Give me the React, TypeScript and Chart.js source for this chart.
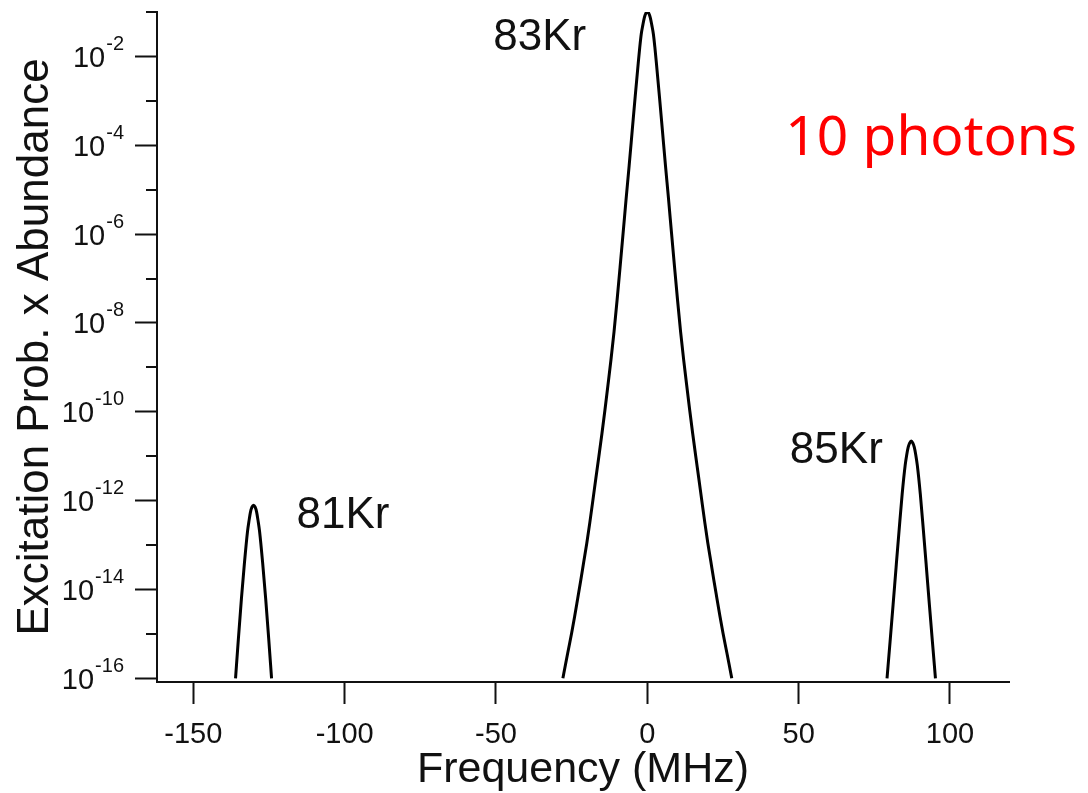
import { useEffect, useRef } from 'react';
import { Chart, registerables } from 'chart.js';

Chart.register(...registerables);

const FONT = '"Liberation Sans", Arial, Helvetica, sans-serif';
const INK = '#111111';

// 83Kr central peak (MHz, excitation prob. x abundance)
const kr83Freq = [
  -27.9, -27, -26, -25, -24, -23, -22, -21, -20, -19, -18, -17, -16, -15, -14, -13, -12, -11, -10, -9, -8, -7, -6, -5, -4, -3, -2.5, -2, -1.5, -1, -0.5,
  0,
  0.5, 1, 1.5, 2, 2.5, 3, 4, 5, 6, 7, 8, 9, 10, 11, 12, 13, 14, 15, 16, 17, 18, 19, 20, 21, 22, 23, 24, 25, 26, 27, 27.9,
];
const kr83Prob = [
  1.0e-16, 2.1e-16, 4.7e-16, 1.05e-15, 2.5e-15, 6.3e-15, 1.6e-14, 4.2e-14, 1.1e-13, 3.2e-13, 1.0e-12, 3.2e-12, 1.0e-11, 3.2e-11, 1.1e-10, 4.0e-10, 1.5e-9, 6.3e-9, 3.2e-8, 1.8e-7, 1.05e-6, 6.3e-6, 3.5e-5, 2.1e-4, 1.26e-3, 7.1e-3, 1.6e-2, 3.2e-2, 5.0e-2, 7.4e-2, 9.3e-2,
  1.0e-1,
  9.3e-2, 7.4e-2, 5.0e-2, 3.2e-2, 1.6e-2, 7.1e-3, 1.26e-3, 2.1e-4, 3.5e-5, 6.3e-6, 1.05e-6, 1.8e-7, 3.2e-8, 6.3e-9, 1.5e-9, 4.0e-10, 1.1e-10, 3.2e-11, 1.0e-11, 3.2e-12, 1.0e-12, 3.2e-13, 1.1e-13, 4.2e-14, 1.6e-14, 6.3e-15, 2.5e-15, 1.05e-15, 4.7e-16, 2.1e-16, 1.0e-16,
];

// 81Kr peak
const kr81Freq = [-136.05, -135.1, -134.1, -133.1, -132.1, -131.6, -131.1, -130.6, -130.1, -129.6, -129.1, -128.6, -128.1, -127.1, -126.1, -125.1, -124.15];
const kr81Prob = [1.0e-16, 7.9e-16, 6.3e-15, 4.0e-14, 2.0e-13, 3.5e-13, 5.6e-13, 7.2e-13, 7.9e-13, 7.2e-13, 5.6e-13, 3.5e-13, 2.0e-13, 4.0e-14, 6.3e-15, 7.9e-16, 1.0e-16];

// 85Kr peak
const kr85Freq = [79.2, 80.2, 81.2, 82.2, 83.2, 84.2, 85.2, 85.7, 86.2, 86.7, 87.2, 87.7, 88.2, 88.7, 89.2, 90.2, 91.2, 92.2, 93.2, 94.2, 95.2];
const kr85Prob = [1.0e-16, 6.6e-16, 4.5e-15, 3.2e-14, 2.2e-13, 1.4e-12, 6.3e-12, 1.07e-11, 1.6e-11, 2.0e-11, 2.2e-11, 2.0e-11, 1.6e-11, 1.07e-11, 6.3e-12, 1.4e-12, 2.2e-13, 3.2e-14, 4.5e-15, 6.6e-16, 1.0e-16];

// axes
const xTickValues = [-150, -100, -50, 0, 50, 100];
const yDecades = [-16, -15, -14, -13, -12, -11, -10, -9, -8, -7, -6, -5, -4, -3, -2, -1];
const yLabelDecades = [-16, -14, -12, -10, -8, -6, -4, -2];

// text labels (anchored at data coordinates: left edge, baseline)
const labelTexts = ['83Kr', '85Kr', '81Kr', '10 photons'];
const labelFreq = [-50.9, 47.1, -115.9, 45.6];
const labelProb = [1.4e-2, 7.2e-12, 2.4e-13, 6.0e-5];
const labelColors = [INK, INK, INK, '#ff0000'];
const labelFonts = [`44px ${FONT}`, `44px ${FONT}`, `44px ${FONT}`, `55px "Noto Sans", "Open Sans", sans-serif`];

const overlayPlugin = {
  id: 'overlay',
  afterDraw(chart: any) {
    const ctx = chart.ctx as CanvasRenderingContext2D;
    const ys = chart.scales.y;
    const xs = chart.scales.x;
    const left = chart.chartArea.left;
    ctx.save();
    // minor ticks (odd decades)
    ctx.strokeStyle = INK;
    ctx.lineWidth = 2;
    yDecades.forEach((k) => {
      if (Math.abs(k) % 2 === 1) {
        const py = Math.round(ys.getPixelForValue(10 ** k));
        ctx.beginPath();
        ctx.moveTo(left - 11, py);
        ctx.lineTo(left, py);
        ctx.stroke();
      }
    });
    // y tick labels with superscript exponent
    ctx.fillStyle = INK;
    ctx.textAlign = 'right';
    ctx.textBaseline = 'alphabetic';
    const right = left - 33;
    yLabelDecades.forEach((k) => {
      const py = ys.getPixelForValue(10 ** k);
      const sup = String(k);
      ctx.font = `20px ${FONT}`;
      ctx.fillText(sup, right, py - 6.5);
      const w = ctx.measureText(sup).width;
      ctx.font = `29px ${FONT}`;
      ctx.fillText('10', right - w - 1, py + 10.5);
    });
    // annotations
    ctx.textAlign = 'left';
    labelTexts.forEach((t, i) => {
      ctx.font = labelFonts[i];
      ctx.fillStyle = labelColors[i];
      ctx.fillText(t, xs.getPixelForValue(labelFreq[i]), ys.getPixelForValue(labelProb[i]));
    });
    ctx.restore();
  },
};

function makeSeries(xsArr: number[], ysArr: number[]) {
  return {
    data: xsArr.map((x, i) => ({ x, y: ysArr[i] })),
    borderColor: '#000000',
    borderWidth: 3,
    pointRadius: 0,
    fill: false,
    cubicInterpolationMode: 'monotone' as const,
  };
}

export default function App() {
  const ref = useRef<HTMLCanvasElement | null>(null);

  useEffect(() => {
    if (!ref.current) return;
    const chart = new Chart(ref.current, {
      type: 'line',
      data: {
        datasets: [
          makeSeries(kr81Freq, kr81Prob),
          makeSeries(kr83Freq, kr83Prob),
          makeSeries(kr85Freq, kr85Prob),
        ] as any,
      },
      options: {
        animation: false,
        responsive: false,
        devicePixelRatio: 1,
        layout: { padding: { left: 0, right: 79, top: 12, bottom: 0 } },
        plugins: { legend: { display: false }, tooltip: { enabled: false } },
        scales: {
          x: {
            type: 'linear',
            min: -162,
            max: 119.5,
            afterBuildTicks: (s: any) => {
              s.ticks = xTickValues.map((v) => ({ value: v }));
            },
            afterFit: (s: any) => {
              s.height = 111;
            },
            grid: { drawOnChartArea: false, drawTicks: true, tickLength: 22, tickWidth: 2, tickColor: INK },
            border: { display: true, color: INK, width: 2 },
            ticks: {
              padding: 14,
              color: INK,
              font: { family: FONT, size: 29 },
              maxRotation: 0,
              autoSkip: false,
              callback: (v: any) => String(v),
            },
            title: {
              display: true,
              text: 'Frequency (MHz)',
              color: INK,
              font: { family: FONT, size: 43, lineHeight: 1 },
              padding: { top: 0, bottom: 1 },
            },
          },
          y: {
            type: 'logarithmic',
            min: 8.26e-17,
            max: 1e-1,
            afterBuildTicks: (s: any) => {
              s.ticks = yDecades.map((k) => ({ value: 10 ** k }));
            },
            afterFit: (s: any) => {
              s.width = 157;
            },
            grid: {
              drawOnChartArea: false,
              drawTicks: true,
              tickLength: 22,
              tickWidth: 2,
              tickColor: (c: any) =>
                Math.round(Math.abs(Math.log10(c.tick.value))) % 2 === 0 ? INK : 'rgba(0,0,0,0)',
            },
            border: { display: true, color: INK, width: 2 },
            ticks: { display: false },
            title: {
              display: true,
              text: 'Excitation Prob. x Abundance',
              color: INK,
              font: { family: FONT, size: 44, lineHeight: 1.2 },
              padding: { top: 9, bottom: 0 },
            },
          },
        },
      } as any,
      plugins: [overlayPlugin],
    });
    return () => chart.destroy();
  }, []);

  return (
    <div style={{ position: 'absolute', left: 0, top: 0, width: 1088, height: 793, background: '#fff' }}>
      <canvas ref={ref} width={1088} height={793} style={{ display: 'block', width: 1088, height: 793 }} />
    </div>
  );
}
